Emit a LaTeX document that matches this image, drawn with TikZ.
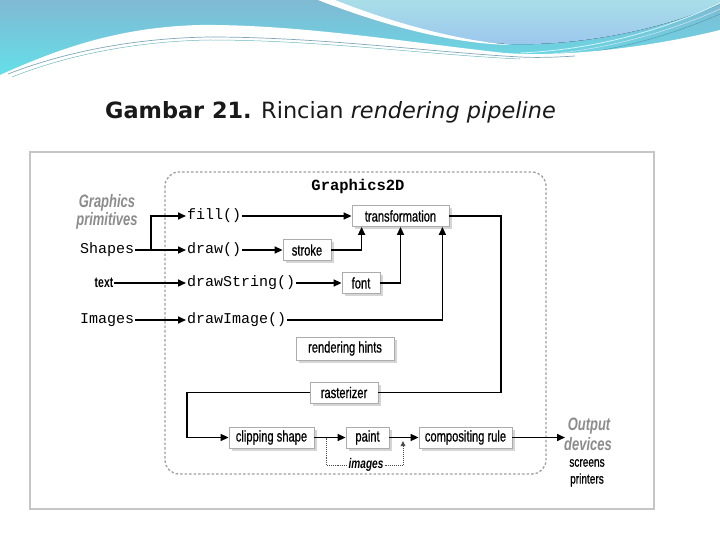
\documentclass[tikz,border=0pt]{standalone}
\usepackage{fontspec}
\setmainfont{Liberation Sans}
\newfontfamily\cond[FakeStretch=0.72]{Liberation Sans}
\newfontfamily\condm[FakeStretch=0.72,FakeBold=0.7]{Liberation Sans}
\newfontfamily\monof{Liberation Mono}
\newfontfamily\titlef{DejaVu Sans}
\usetikzlibrary{arrows.meta,shadows}
\definecolor{hdrA}{HTML}{80B9D3}
\definecolor{hdrB}{HTML}{62E2EA}
\definecolor{hdrC}{HTML}{A8DEE8}
\definecolor{hdrD}{HTML}{9CC6EE}
\definecolor{hdrE}{HTML}{6CC4DC}
\definecolor{gtxt}{HTML}{8C8C8C}
\tikzset{
  box/.style={draw=gray!65, fill=white, line width=0.8pt, inner sep=0pt, minimum height=21pt,
    font=\condm\fontsize{15.5}{15.5}\selectfont,
    drop shadow={shadow xshift=2.5pt, shadow yshift=-2.5pt, fill=gray!55, opacity=0.6}},
  mono/.style={font=\monof\fontsize{15}{15}\selectfont, inner sep=1pt, anchor=west},
  prim/.style={font=\cond\bfseries\itshape\fontsize{18}{18}\selectfont, text=gtxt, align=center, inner sep=0pt},
  small/.style={font=\condm\fontsize{14}{14}\selectfont, inner sep=1pt},
  arr/.style={-{Triangle[length=8pt,width=7pt]}, line width=1.6pt},
  plain/.style={line width=1.6pt},
  dotl/.style={densely dotted, line width=0.9pt, black!70},
}
\begin{document}
\begin{tikzpicture}[x=1pt,y=-1pt]
\useasboundingbox (0,0) rectangle (720,540);
% header
\fill[top color=hdrA, bottom color=hdrB] (0,0) rectangle (720,80);
\fill[top color=hdrC, bottom color=hdrD] (322,0) .. controls (380,22) and (450,42) .. (510,44) .. controls (580,46) and (660,30) .. (720,4) -- (720,0) -- cycle;
\fill[white] (318,0) .. controls (380,24) and (450,44) .. (512,45) .. controls (450,40) and (380,18) .. (335,0) -- cycle;
\draw[white!70!hdrB, line width=0.8pt] (720,3) .. controls (660,32) and (590,50) .. (520,53);
\draw[white!60!hdrA, line width=0.6pt] (720,9) .. controls (660,36) and (590,53) .. (525,56);
\draw[hdrE!80!black, line width=0.5pt] (720,14) .. controls (660,40) and (600,55) .. (530,58);
\fill[white] (0,75) .. controls (60,48) and (120,27) .. (200,25) .. controls (300,24) and (420,44) .. (505,53) .. controls (570,58) and (660,45) .. (720,30) -- (720,540) -- (0,540) -- cycle;
\draw[hdrA!70!gray, line width=0.7pt] (8,74) .. controls (70,50) and (140,38) .. (210,37) .. controls (320,37) and (430,52) .. (520,57) .. controls (540,58) and (560,57) .. (575,56);
\draw[hdrB!60!gray, line width=0.5pt] (12,77) .. controls (70,54) and (140,41) .. (210,40) .. controls (320,40) and (430,55) .. (520,59);
% title
\node[anchor=base west, inner sep=0pt, text=black!90] (title) at (105,119) {\titlef\fontsize{22.4}{22.4}\selectfont\textbf{Gambar 21.} Rincian \textit{rendering pipeline}};
% frame
\draw[gray!45, line width=1.2pt] (30,152) rectangle (654,509);
% Graphics2D dashed region
\draw[gray!75, line width=1.3pt, dash pattern=on 2.5pt off 2pt, rounded corners=14pt] (165,172) rectangle (546,474);
\node[font=\monof\bfseries\fontsize{15.5}{15.5}\selectfont, inner sep=0pt] (g2d) at (358,186.5) {Graphics2D};
% left labels
\node[prim] (prim) at (107,212) {Graphics\\primitives};
\node[mono] (shapes) at (79,250) {Shapes};
\node[font=\cond\bfseries\fontsize{14.5}{14.5}\selectfont, inner sep=1pt] (txt) at (104,283) {text};
\node[mono] (imgs) at (79,320) {Images};
% method calls
\node[mono] (fill) at (186,216) {fill()};
\node[mono] (draw) at (186,250) {draw()};
\node[mono] (dstr) at (186,283) {drawString()};
\node[mono] (dimg) at (186,320) {drawImage()};
% boxes
\node[box, minimum width=97pt] (trans) at (400.5,216) {transformation};
\node[box, minimum width=48pt] (stroke) at (307,250) {stroke};
\node[box, minimum width=38pt] (font) at (361,283) {font};
\node[box, minimum width=98pt, minimum height=23pt] (hints) at (345,348.5) {rendering hints};
\node[box, minimum width=68pt] (rast) at (344,392.5) {rasterizer};
\node[box, minimum width=85pt] (clip) at (271.5,437.5) {clipping shape};
\node[box, minimum width=43pt] (paint) at (367.5,437.5) {paint};
\node[box, minimum width=93pt] (comp) at (465.5,437.5) {compositing rule};
% output
\node[prim] (outp) at (589,426) {Output};
\node[prim] (dev) at (588,444) {devices};
\node[small] (scr) at (587,463) {screens};
\node[small] (prn) at (587,480) {printers};
% connectors
\coordinate (j) at (151,250);
\draw[plain] (shapes.east) -- (j);
\draw[arr] (j) |- (fill.west);
\draw[arr] (j) -- (draw.west);
\draw[arr] (txt.east) -- (dstr.west);
\draw[arr] (imgs.east) -- (dimg.west);
\draw[arr] (fill.east) -- (trans.west);
\draw[arr] (draw.east) -- (stroke.west);
\draw[arr] (stroke.east) -| ([xshift=10pt]trans.south west);
\draw[arr] (dstr.east) -- (font.west);
\draw[arr] (font.east) -| (trans.south);
\draw[arr] (dimg.east) -| ([xshift=-7pt]trans.south east);
\coordinate (tr) at (501,216);
\draw[plain] (trans.east) -- (tr) |- (rast.east);
\coordinate (rl) at (187,392.5);
\draw[arr] (rast.west) -- (rl) |- (clip.west);
\draw[arr] (clip) -- (paint);
\draw[arr] (paint) -- (comp);
\coordinate (out) at (565,437.5);
\draw[arr] (comp.east) -- (out);
% images dotted feed
\node[font=\cond\bfseries\itshape\fontsize{14}{14}\selectfont, inner sep=1pt] (imlab) at (366,465) {images};
\coordinate (d1) at (326,437.5);
\coordinate (d2) at (403,441);
\draw[dotl] (d1) |- (imlab.west);
\draw[dotl, -{Triangle[length=5pt,width=4.5pt]}] (imlab.east) -| (d2);
\end{tikzpicture}
\end{document}
